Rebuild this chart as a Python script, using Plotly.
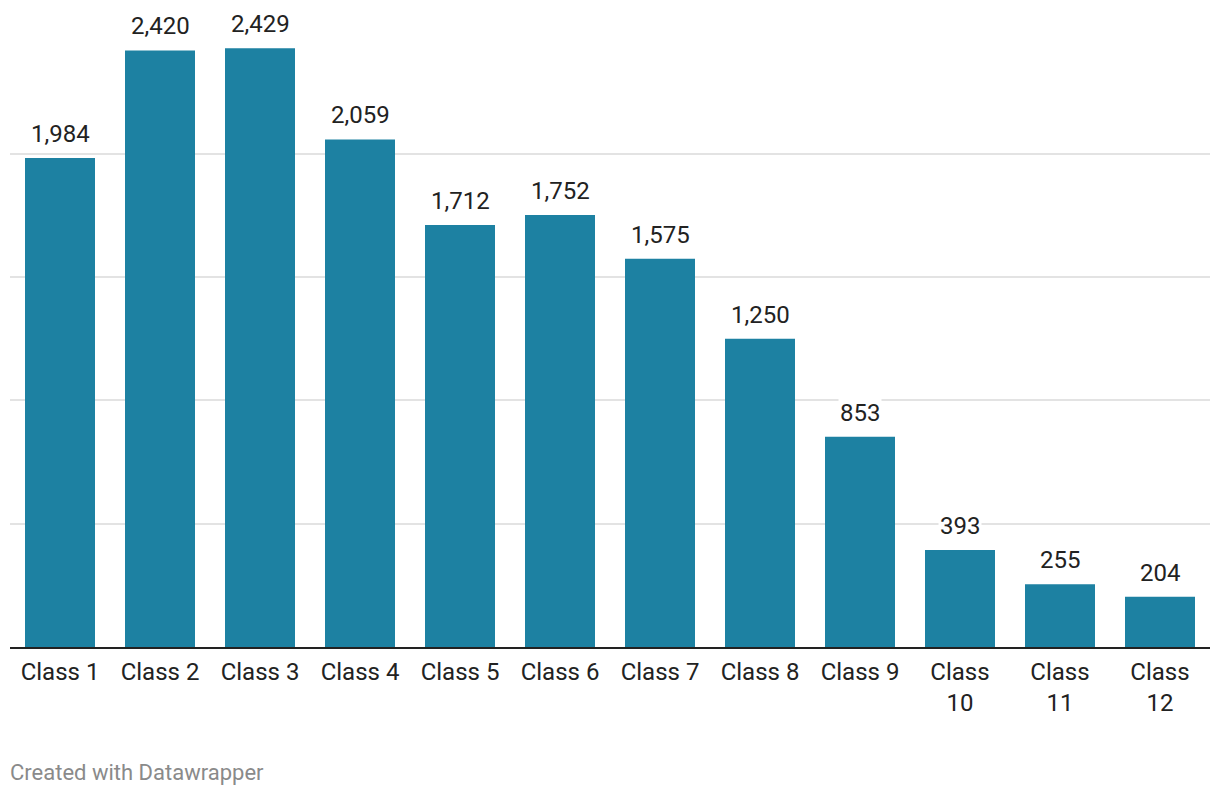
import plotly.graph_objects as go

categories = ["Class 1", "Class 2", "Class 3", "Class 4", "Class 5", "Class 6",
              "Class 7", "Class 8", "Class 9", "Class 10", "Class 11", "Class 12"]
tick_labels = ["Class 1", "Class 2", "Class 3", "Class 4", "Class 5", "Class 6",
               "Class 7", "Class 8", "Class 9", "Class<br>10", "Class<br>11", "Class<br>12"]
values = [1984, 2420, 2429, 2059, 1712, 1752, 1575, 1250, 853, 393, 255, 204]
grid_values = [500, 1000, 1500, 2000]

BAR = "#1d81a2"
TXT = "#222222"
FONT = "Roboto, sans-serif"

W, H = 1212, 788
PLOT_H = 639
Y_MAX = 2592

fig = go.Figure(go.Bar(
    x=categories, y=values, marker=dict(color=BAR, line=dict(width=0)),
    hoverinfo="skip",
))

for c, v in zip(categories, values):
    fig.add_annotation(
        x=c, y=v, xref="x", yref="y", text=f"{v:,}", showarrow=False,
        yanchor="bottom", yshift=8, bgcolor="white", borderpad=1,
        font=dict(family=FONT, size=24, color=TXT),
    )

fig.add_annotation(
    x=0, y=-(764 - PLOT_H) / PLOT_H, xref="paper", yref="paper",
    text="Created with Datawrapper",
    showarrow=False, xanchor="left", yanchor="middle", xshift=-2,
    font=dict(family=FONT, size=22, color="#8a8a8a"),
)

fig.update_layout(
    width=W, height=H,
    margin=dict(l=2, r=10, t=0, b=H - PLOT_H),
    paper_bgcolor="white", plot_bgcolor="white",
    bargap=0.3, showlegend=False,
    font=dict(family=FONT, size=24, color=TXT),
    xaxis=dict(
        tickmode="array", tickvals=categories, ticktext=tick_labels,
        showline=True, linecolor="#222222", linewidth=2, ticks="",
        showgrid=False, tickfont=dict(family=FONT, size=24, color=TXT),
        ticklabelstandoff=2,
    ),
    yaxis=dict(
        range=[0, Y_MAX], tickmode="array", tickvals=grid_values,
        showticklabels=False, showgrid=True, gridcolor="#e3e3e3", gridwidth=1.5,
        zeroline=False, fixedrange=True,
    ),
)

fig.write_html("out.html")
